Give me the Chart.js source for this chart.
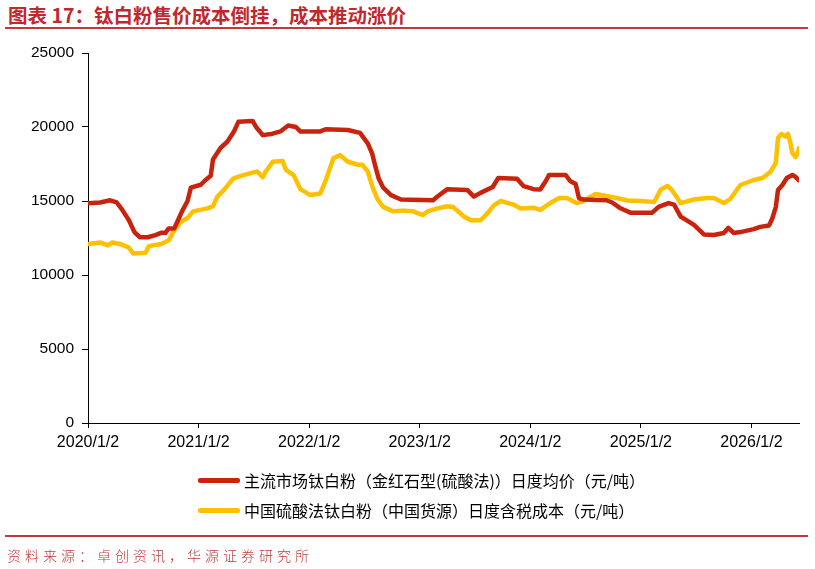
<!DOCTYPE html>
<html>
<head>
<meta charset="utf-8">
<script src="https://cdn.jsdelivr.net/npm/chart.js@4.4.1/dist/chart.umd.min.js"></script>
<style>
  html, body { margin: 0; padding: 0; background: #fff; }
  body { width: 815px; height: 569px; position: relative; overflow: hidden; }
  #title { position: absolute; left: 8px; top: 3px; font-family: "Noto Sans CJK SC", sans-serif; font-weight: 700; font-size: 19.5px; color: #C0282D; white-space: nowrap; line-height: 24px; }
  #titleLine { position: absolute; left: 5px; width: 803px; top: 27px; height: 2px; background: #C0393B; }
  #footLine { position: absolute; left: 5px; width: 803px; top: 535px; height: 2px; background: #C0393B; }
  #foot { position: absolute; left: 7px; top: 545px; font-family: "Noto Sans CJK SC", sans-serif; font-weight: 300; font-size: 14px; letter-spacing: 4px; color: #C0393B; white-space: nowrap; line-height: 20px; }
  #chartWrap { position: absolute; left: 0; top: 0; width: 815px; height: 569px; }
  .leg { position: absolute; left: 198px; font-family: "Noto Sans CJK SC", sans-serif; font-size: 16px; color: #000; white-space: nowrap; line-height: 20px; }
  .leg span.sw { position: absolute; left: 0; top: 8px; width: 42px; height: 4.5px; border-radius: 2px; }
  .leg span.tx { position: absolute; left: 46px; top: 0; }
</style>
</head>
<body>
<div id="title">图表 17：钛白粉售价成本倒挂，成本推动涨价</div>
<div id="titleLine"></div>
<div id="chartWrap"><canvas id="c" width="815" height="569"></canvas></div>
<div class="leg" id="leg1" style="top:470px;"><span class="sw" style="background:#C9230E"></span><span class="tx"></span></div>
<div class="leg" id="leg2" style="top:500px;"><span class="sw" style="background:#FFC000"></span><span class="tx"></span></div>
<div id="footLine"></div>
<div id="foot">资料来源：卓创资讯，华源证券研究所</div>
<script>
// ---- data (x positions as decimal years) ----
const seriesNames = [
  "主流市场钛白粉（金红石型(硫酸法)）日度均价（元/吨）",
  "中国硫酸法钛白粉（中国货源）日度含税成本（元/吨）"
];
const xTickYears = [2020, 2021, 2022, 2023, 2024, 2025, 2026];
const xTickLabels = ["2020/1/2", "2021/1/2", "2022/1/2", "2023/1/2", "2024/1/2", "2025/1/2", "2026/1/2"];
const yTickValues = [0, 5000, 10000, 15000, 20000, 25000];

const priceYears = [2020.00,2020.11,2020.20,2020.26,2020.31,2020.37,2020.42,2020.47,2020.54,2020.61,2020.66,2020.70,2020.73,2020.78,2020.82,2020.85,2020.90,2020.93,2021.02,2021.06,2021.11,2021.13,2021.20,2021.26,2021.32,2021.36,2021.49,2021.52,2021.58,2021.67,2021.74,2021.81,2021.88,2021.92,2022.10,2022.15,2022.35,2022.46,2022.53,2022.57,2022.60,2022.63,2022.67,2022.74,2022.83,2023.12,2023.16,2023.25,2023.43,2023.49,2023.55,2023.66,2023.71,2023.88,2023.94,2024.03,2024.09,2024.14,2024.17,2024.32,2024.36,2024.41,2024.44,2024.48,2024.69,2024.74,2024.81,2024.91,2025.10,2025.16,2025.25,2025.30,2025.36,2025.48,2025.57,2025.66,2025.75,2025.79,2025.84,2025.90,2026.02,2026.08,2026.16,2026.19,2026.22,2026.24,2026.28,2026.32,2026.37,2026.40,2026.43];
const priceValues = [14850,14900,15050,14900,14400,13700,12900,12550,12550,12700,12850,12850,13150,13150,13800,14300,15000,15900,16100,16400,16700,17800,18600,19000,19700,20350,20400,20000,19450,19550,19700,20100,20000,19700,19700,19850,19800,19600,18900,18200,17300,16500,15900,15400,15100,15050,15300,15800,15750,15300,15550,15950,16550,16500,16000,15800,15780,16350,16760,16760,16350,16150,15200,15100,15050,14900,14530,14200,14200,14600,14860,14750,13950,13380,12740,12700,12840,13180,12840,12900,13100,13250,13350,13850,14590,15740,16080,16550,16760,16620,16400];

const costYears = [2020.00,2020.11,2020.18,2020.22,2020.29,2020.37,2020.41,2020.52,2020.55,2020.66,2020.73,2020.77,2020.84,2020.90,2020.95,2021.08,2021.13,2021.17,2021.23,2021.31,2021.38,2021.53,2021.58,2021.60,2021.67,2021.76,2021.79,2021.86,2021.92,2022.01,2022.10,2022.15,2022.22,2022.28,2022.35,2022.44,2022.48,2022.53,2022.57,2022.62,2022.67,2022.76,2022.85,2022.94,2023.03,2023.07,2023.16,2023.25,2023.30,2023.40,2023.46,2023.55,2023.61,2023.67,2023.73,2023.85,2023.91,2024.03,2024.09,2024.18,2024.26,2024.33,2024.42,2024.48,2024.59,2024.69,2024.78,2024.88,2025.00,2025.12,2025.18,2025.24,2025.28,2025.36,2025.48,2025.60,2025.66,2025.75,2025.81,2025.87,2025.90,2026.02,2026.10,2026.17,2026.22,2026.24,2026.27,2026.31,2026.33,2026.35,2026.37,2026.40,2026.42,2026.43];
const costValues = [12100,12200,12000,12200,12100,11850,11450,11500,11950,12100,12350,12900,13600,13850,14300,14500,14650,15300,15750,16500,16700,17000,16600,16900,17650,17700,17100,16750,15800,15400,15500,16400,17900,18100,17650,17450,17450,17000,16000,15100,14600,14300,14350,14300,14050,14300,14500,14650,14600,13950,13700,13700,14150,14700,15000,14750,14500,14550,14400,14860,15200,15200,14860,15000,15470,15340,15200,15030,15000,14930,15780,16010,15750,14860,15100,15200,15200,14860,15150,15780,16080,16420,16550,16960,17570,19260,19530,19350,19530,19000,18240,17970,18310,18580];

const seriesColors = ["#C9230E", "#FFC000"];

document.querySelector('#leg1 .tx').textContent = seriesNames[0];
document.querySelector('#leg2 .tx').textContent = seriesNames[1];

const toPoints = (xs, ys) => xs.map((x, i) => ({ x: x, y: ys[i] }));

const latin = '"Liberation Sans", Arial, sans-serif';

new Chart(document.getElementById('c'), {
  type: 'line',
  data: {
    datasets: [
      { label: seriesNames[1], data: toPoints(costYears, costValues), borderColor: seriesColors[1], backgroundColor: seriesColors[1], borderWidth: 4.5, pointRadius: 0, tension: 0, borderJoinStyle: 'round', borderCapStyle: 'round', order: 2 },
      { label: seriesNames[0], data: toPoints(priceYears, priceValues), borderColor: seriesColors[0], backgroundColor: seriesColors[0], borderWidth: 4.5, pointRadius: 0, tension: 0, borderJoinStyle: 'round', borderCapStyle: 'round', order: 1 }
    ]
  },
  options: {
    responsive: false,
    animation: false,
    devicePixelRatio: 1,
    layout: { padding: { left: 0, right: 16, top: 53, bottom: 106 } },
    plugins: { legend: { display: false }, tooltip: { enabled: false } },
    scales: {
      x: {
        type: 'linear',
        min: 2020,
        max: 2026.43,
        afterBuildTicks: (scale) => { scale.ticks = xTickYears.map(v => ({ value: v })); },
        afterFit: (scale) => { scale.height = 40; },
        ticks: {
          autoSkip: false, maxRotation: 0, minRotation: 0, padding: 5,
          color: '#000', font: { family: latin, size: 16 },
          callback: (v) => { const i = xTickYears.indexOf(v); return i >= 0 ? xTickLabels[i] : ''; }
        },
        grid: { drawOnChartArea: false, drawTicks: true, tickLength: 5, color: '#000', lineWidth: 1 },
        border: { display: true, color: '#000', width: 1 }
      },
      y: {
        min: 0,
        max: 25000,
        afterBuildTicks: (scale) => { scale.ticks = yTickValues.map(v => ({ value: v })); },
        afterFit: (scale) => { scale.width = 88; },
        ticks: {
          padding: 8, color: '#000', font: { family: latin, size: 15.5 },
          callback: (v) => String(v)
        },
        grid: { drawOnChartArea: false, drawTicks: true, tickLength: 6, color: '#000', lineWidth: 1 },
        border: { display: true, color: '#000', width: 1 }
      }
    }
  }
});
</script>
</body>
</html>
